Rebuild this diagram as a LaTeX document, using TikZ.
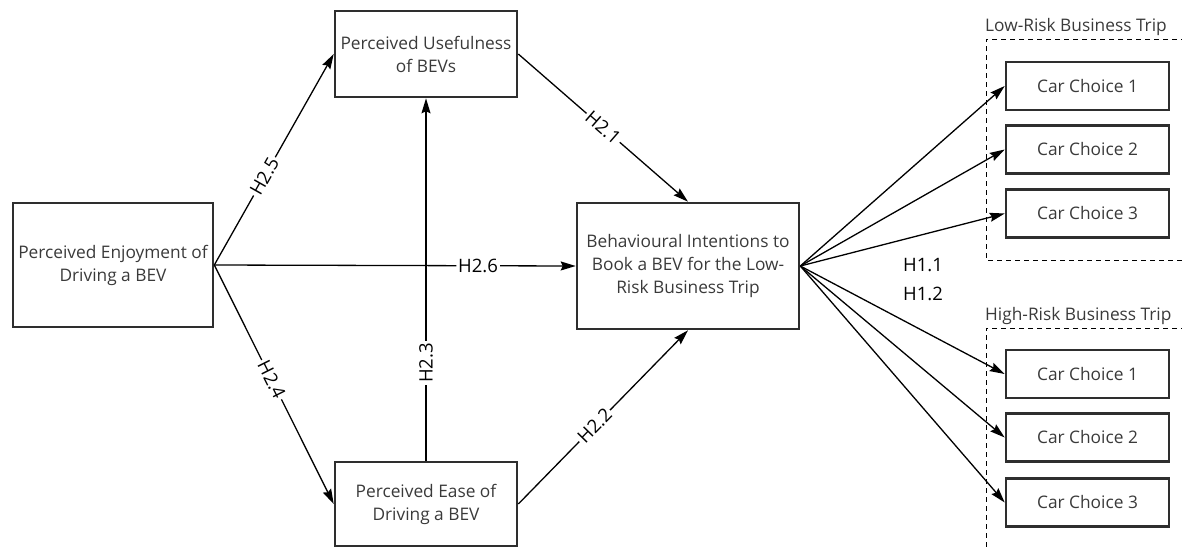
\documentclass[tikz,border=0pt]{standalone}
\usepackage{fontspec}
\setmainfont{Open Sans}
\usetikzlibrary{arrows.meta}
\definecolor{boxc}{HTML}{2E2E2E}
\definecolor{txtc}{HTML}{3A3A3A}
\begin{document}
\begin{tikzpicture}[x=1pt,y=-1pt,
  box/.style={draw=boxc, line width=2.6pt, text=txtc, align=center, inner sep=0pt,
    font=\fontsize{17.3}{23}\selectfont},
  car/.style={box, minimum width=163pt, minimum height=48pt},
  conn/.style={line width=1.3pt, -{Stealth[length=15pt,width=9pt,inset=2pt]}},
  lab/.style={fill=white, sloped, inner sep=2pt, font=\fontsize{18.5}{20}\selectfont},
  grp/.style={dashed, line width=0.9pt, dash pattern=on 5pt off 4pt},
  grplab/.style={anchor=west, inner sep=0pt, text=txtc, font=\fontsize{17.3}{20}\selectfont}]
\useasboundingbox (0,0) rectangle (1182,547);
\clip (0,0) rectangle (1182,547);
% main boxes
\node[box, minimum width=200pt, minimum height=124pt] (enj) at (113,265) {Perceived Enjoyment of\\Driving a BEV};
\node[box, minimum width=182pt, minimum height=86pt] (pu) at (426,54) {Perceived Usefulness\\of BEVs};
\node[box, minimum width=222pt, minimum height=126pt] (bi) at (688,266) {Behavioural Intentions to\\Book a BEV for the Low-\\Risk Business Trip};
\node[box, minimum width=182pt, minimum height=84pt] (pe) at (426,504) {Perceived Ease of\\Driving a BEV};
% groups
\draw[grp] (1195,39) -- (986,39) -- (986,260) -- (1195,260);
\node[grplab] (lowlab) at (985,27) {Low-Risk Business Trip};
\draw[grp] (1195,328) -- (986,328) -- (986,560);
\node[grplab] (highlab) at (985,316) {High-Risk Business Trip};
% car choices
\node[car] (l1) at (1087.5,86) {Car Choice 1};
\node[car] (l2) at (1087.5,149.5) {Car Choice 2};
\node[car] (l3) at (1087.5,213.5) {Car Choice 3};
\node[car] (h1) at (1087.5,374) {Car Choice 1};
\node[car] (h2) at (1087.5,437.5) {Car Choice 2};
\node[car] (h3) at (1087.5,502.5) {Car Choice 3};
% connectors
\draw[conn] (enj.east) -- node[lab, pos=0.42] {H2.5} (pu.west);
\draw[conn] (enj.east) -- node[lab, pos=0.73] {H2.6} (bi.west);
\draw[conn] (enj.east) -- node[lab, pos=0.48] {H2.4} (pe.west);
\draw[conn] (pe.north) -- node[lab, pos=0.27] {H2.3} (pu.south);
\draw[conn] (pu.east) -- node[lab, pos=0.5] {H2.1} (bi.north);
\draw[conn] (pe.east) -- node[lab, pos=0.45] {H2.2} (bi.south);
\foreach \t in {l1,l2,l3,h1,h2,h3}
  \draw[conn] (bi.east) -- (\t.west);
\node[font=\fontsize{18.5}{20}\selectfont, inner sep=0pt] (h11) at (923,265) {H1.1};
\node[font=\fontsize{18.5}{20}\selectfont, inner sep=0pt] (h12) at (923,294) {H1.2};
\end{tikzpicture}
\end{document}
